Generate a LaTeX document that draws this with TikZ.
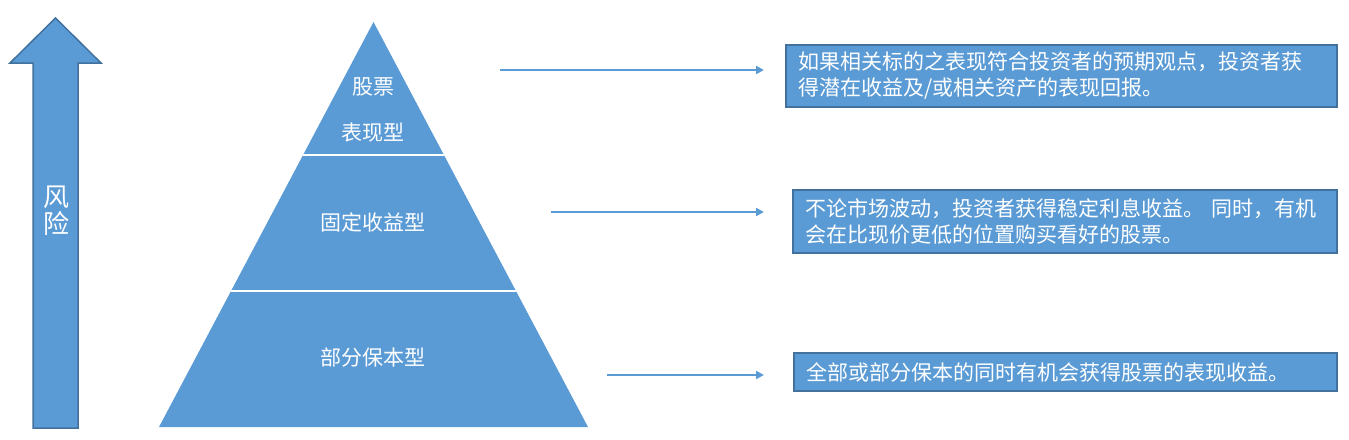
\documentclass[tikz,border=0pt]{standalone}
\usepackage{fontspec}
\setmainfont{Noto Sans CJK SC}
\usepackage{tikz}
\usetikzlibrary{positioning, arrows.meta, calc}
\definecolor{pptblue}{HTML}{5B9BD5}
\definecolor{pptedge}{HTML}{41719C}
\tikzset{
  riskchart/.style={
	x=1pt, y=-1pt, % one unit is one pixel of the slide, y runs down
	node distance=46pt, % distance between the two lines of the top tier
	tier/.style={text=white, inner sep=0pt, font=\fontsize{21}{21}\selectfont}, % labels on the pyramid
	descbox/.style={draw=pptedge, line width=2pt, fill=pptblue, text=white, align=left,
	  inner xsep=12pt, inner ysep=0pt, font=\fontsize{21}{26}\selectfont}, % the boxes on the right
	link/.style={draw=pptblue, line width=2pt, -{Triangle[length=8pt, width=8pt]}}, % arrows to the boxes
  }
}
\begin{document}
\begin{tikzpicture}[riskchart]
\useasboundingbox (0,0) rectangle (1349,439);

% risk arrow
\draw[draw=pptedge, fill=pptblue, line width=1.5pt]
	(33,428) -- (33,63) -- (10,63) -- (55.5,18) -- (101,63) -- (78,63) -- (78,428) -- cycle;
\node[text=white, align=center, inner sep=0pt, font=\fontsize{26}{27}\selectfont] (risk) at (56,211) {风\\险};

% pyramid
\coordinate (apex) at (373.5,22);
\coordinate (baseL) at (159,427);
\coordinate (baseR) at (588,427);
\fill[pptblue] (apex) -- (baseR) -- (baseL) -- cycle;
\begin{scope}
\clip (apex) -- (baseR) -- (baseL) -- cycle;
\draw[white, line width=2pt] (150,155) -- (600,155)
	(150,291) -- (600,291);
\end{scope}

\node[tier] (stock) at (373,87) {股票};
\node[tier, below of=stock] (perf) {表现型};
\node[tier] (fixed) at (373,222) {固定收益型};
\node[tier] (part) at (373,358) {部分保本型};

% explanation boxes
\node[descbox, text width=527pt, minimum height=62pt] (b1) at (1061.5,76)
	{如果相关标的之表现符合投资者的预期观点，投资者获\\得潜在收益及/或相关资产的表现回报。};
\node[descbox, text width=520pt, minimum height=63pt] (b2) at (1065,221.5)
	{不论市场波动，投资者获得稳定利息收益。 同时，有机\\会在比现价更低的位置购买看好的股票。};
\node[descbox, text width=519pt, minimum height=38pt] (b3) at (1065.5,372)
	{全部或部分保本的同时有机会获得股票的表现收益。};

\coordinate (s1) at (500,70);
\coordinate (s2) at (551,212);
\coordinate (s3) at (607,375);
\draw[link, shorten >=21pt] (s1) -- (s1 -| b1.west);
\draw[link, shorten >=28pt] (s2) -- (s2 -| b2.west);
\draw[link, shorten >=29pt] (s3) -- (s3 -| b3.west);
\end{tikzpicture}
\end{document}
